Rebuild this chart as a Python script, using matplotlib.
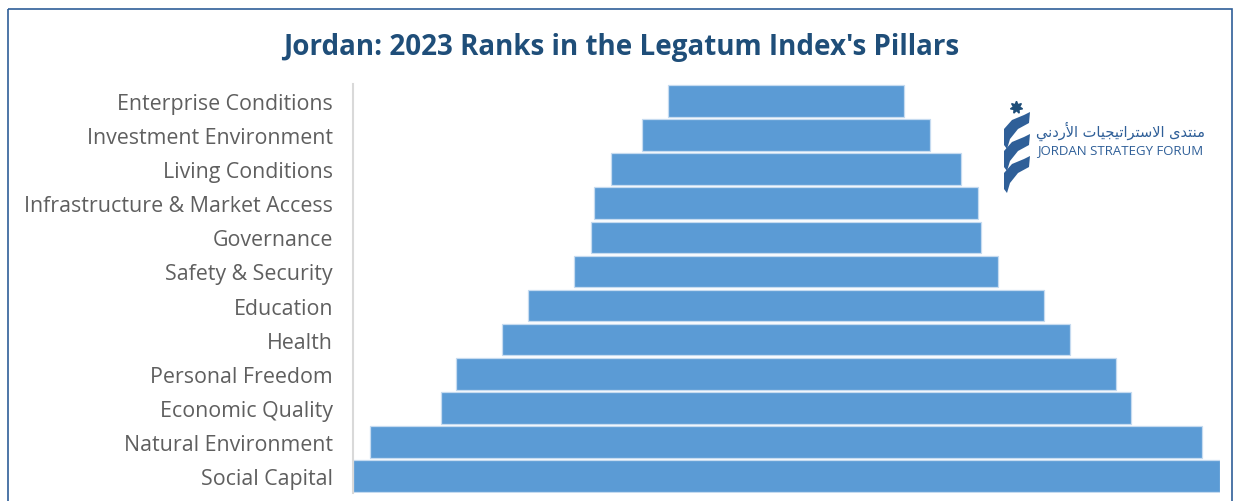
import matplotlib.pyplot as plt
import numpy as np
from matplotlib.patches import Polygon, Rectangle

# Jordan's ranks in the Legatum Prosperity Index pillars (2023)
pillars = [
    "Enterprise Conditions",
    "Investment Environment",
    "Living Conditions",
    "Infrastructure & Market Access",
    "Governance",
    "Safety & Security",
    "Education",
    "Health",
    "Personal Freedom",
    "Economic Quality",
    "Natural Environment",
    "Social Capital",
]
ranks = [41, 50, 61, 67, 68, 74, 90, 99, 115, 120, 145, 151]

title = "Jordan: 2023 Ranks in the Legatum Index's Pillars"

W, H = 1234, 502
fig = plt.figure(figsize=(W / 100, H / 100), dpi=100)

# main funnel axes
ax = fig.add_axes([352.5 / W, 1 - 494 / H, (1219.5 - 352.5) / W, (494 - 85) / H])
vals = np.array(ranks, dtype=float)
top = vals.max()
ypos = np.arange(len(pillars))
ax.barh(ypos, vals, left=(top - vals) / 2, height=0.93,
        color="#5B9BD5", edgecolor="#c6dbf0", linewidth=0.9)
ax.set_xlim(0, top)
ax.set_ylim(len(pillars) - 0.5, -0.5)
ax.set_yticks(ypos)
ax.set_yticklabels(pillars, fontsize=15.4, color="#5f5f5f", family="Open Sans")
ax.tick_params(axis="y", length=0, pad=14)
ax.set_xticks([])
for s in ("top", "right", "bottom"):
    ax.spines[s].set_visible(False)
ax.spines["left"].set_color("#d9d9d9")
ax.spines["left"].set_linewidth(1.5)

fig.text(621 / W, 1 - 48 / H, title, ha="center", va="center",
         fontsize=20, fontweight="bold", color="#1F4E79", family="Open Sans")

# overlay in pixel coordinates for frame and logo
ov = fig.add_axes([0, 0, 1, 1], facecolor="none")
ov.set_xlim(0, W)
ov.set_ylim(H, 0)
ov.axis("off")
ov.add_patch(Rectangle((8, 10), 1224, 520, fill=False, edgecolor="#2F5F98",
                       linewidth=1.2, clip_on=False))

# logo: star + three ribbons
ov.plot([1016], [108], marker=(7, 1, 0), markersize=9, color="#1F4E79")
for dy in (0, 22, 44):
    ribbon = Polygon([(1004, 130 + dy), (1012, 121 + dy), (1024, 116 + dy),
                      (1030, 113 + dy), (1029, 124 + dy), (1018, 130 + dy),
                      (1010, 140 + dy), (1007, 150 + dy), (1004, 146 + dy)],
                     closed=True, facecolor="#2F5F98", edgecolor="none")
    ov.add_patch(ribbon)

# Arabic name, pre-shaped presentation forms in visual order
arabic = [
    "\uFEE3", "\uFEE8", "\uFE98", "\uFEAA", "\uFEEF", " ",
    "\uFE8D", "\uFEFB", "\uFEB3", "\uFE98", "\uFEAE", "\uFE8D", "\uFE97",
    "\uFEF4", "\uFEA0", "\uFEF4", "\uFE8E", "\uFE95", " ",
    "\uFE8D", "\uFEF7", "\uFEAD", "\uFEA9", "\uFEE7", "\uFEF2",
]
ov.text(1205, 131, "".join(arabic[::-1]), ha="right", va="center",
        fontsize=10.5, color="#2F5F98", family="DejaVu Sans")
ov.text(1037, 151, "JORDAN STRATEGY FORUM", ha="left", va="center",
        fontsize=9.5, color="#2F5F98", family="Open Sans")

fig.savefig("out.png", dpi=100)
